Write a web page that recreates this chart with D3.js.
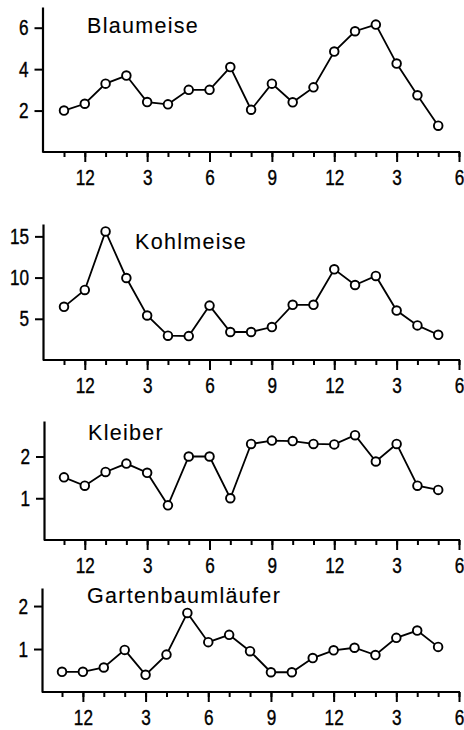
<!DOCTYPE html>
<html>
<head>
<meta charset="utf-8">
<script src="https://cdn.jsdelivr.net/npm/d3@7/dist/d3.min.js"></script>
<style>
  html, body { margin: 0; padding: 0; background: #fff; }
  svg { display: block; }
  .tick text { font-family: "Liberation Sans", "DejaVu Sans", sans-serif; font-size: 22px; fill: #000; stroke: #000; stroke-width: 0.4px; }
  .title { font-family: "Liberation Sans", "DejaVu Sans", sans-serif; font-size: 21.5px; letter-spacing: 1.3px; fill: #000; stroke: #000; stroke-width: 0.1px; }
</style>
</head>
<body>
<script>
// Months from November to May of the year after next (19 sampling points)
const months = [11, 12, 1, 2, 3, 4, 5, 6, 7, 8, 9, 10, 11, 12, 1, 2, 3, 4, 5];
// x tick labels (every third month), positions are month indices
const xTickIndex = [1, 4, 7, 10, 13, 16, 19];
const xTickLabels = ["12", "3", "6", "9", "12", "3", "6"];

const species = ["Blaumeise", "Kohlmeise", "Kleiber", "Gartenbaumläufer"];

const blaumeise = [2.0, 2.33, 3.3, 3.69, 2.41, 2.3, 3.0, 3.0, 4.1, 2.04, 3.3, 2.4, 3.12, 4.85, 5.83, 6.15, 4.27, 2.74, 1.27];
const kohlmeise = [6.45, 8.5, 15.6, 9.95, 5.4, 2.95, 2.9, 6.6, 3.4, 3.4, 4.0, 6.7, 6.7, 11.0, 9.1, 10.2, 6.0, 4.2, 3.06];
const kleiber = [1.5, 1.3, 1.63, 1.83, 1.61, 0.83, 2.0, 2.0, 1.0, 2.3, 2.38, 2.37, 2.3, 2.29, 2.51, 1.88, 2.3, 1.3, 1.2];
const gartenbaumlaeufer = [0.47, 0.47, 0.57, 0.98, 0.4, 0.87, 1.84, 1.16, 1.33, 0.95, 0.46, 0.46, 0.79, 0.97, 1.03, 0.86, 1.26, 1.43, 1.05];

const yTicksBlau = [2, 4, 6];
const yTicksKohl = [5, 10, 15];
const yTicksKleiber = [1, 2];
const yTicksGarten = [1, 2];

const yMaxBlau = 7.0;
const yMaxKohl = 16.5;
const yMaxKleiber = 2.85;
const yMaxGarten = 2.42;

// layout (pixels)
const W = 464, H = 730;
const layout = [
  { axisX: 42.5, x0: 64, x19: 459, top: 7, bottom: 152, titleX: 87, titleY: 33 },
  { axisX: 43, x0: 64, x19: 459, top: 224, bottom: 360, titleX: 135, titleY: 249 },
  { axisX: 44, x0: 64, x19: 459, top: 421, bottom: 540, titleX: 88, titleY: 440 },
  { axisX: 42, x0: 62, x19: 459, top: 588, bottom: 692, titleX: 87, titleY: 603 }
];
const seriesList = [blaumeise, kohlmeise, kleiber, gartenbaumlaeufer];
const yTicksList = [yTicksBlau, yTicksKohl, yTicksKleiber, yTicksGarten];
const yMaxList = [yMaxBlau, yMaxKohl, yMaxKleiber, yMaxGarten];

const svg = d3.select("body").append("svg").attr("width", W).attr("height", H);
const squeeze = 0.78;

seriesList.forEach((values, p) => {
  const L = layout[p];
  const x = d3.scaleLinear().domain([0, 19]).range([L.x0, L.x19]);
  const y = d3.scaleLinear().domain([0, yMaxList[p]]).range([L.bottom, L.top]);
  const g = svg.append("g");

  // minor x ticks (every month)
  const minor = g.append("g").attr("transform", `translate(0,${L.bottom})`)
    .call(d3.axisBottom(x).tickValues(d3.range(0, 20)).tickSize(5).tickFormat(""));
  minor.select(".domain").remove();
  minor.selectAll("line").attr("stroke", "#000").attr("stroke-width", 2);

  // major x ticks with labels
  const major = g.append("g").attr("transform", `translate(0,${L.bottom})`)
    .call(d3.axisBottom(x).tickValues(xTickIndex).tickSize(10).tickPadding(7)
      .tickFormat((d, i) => xTickLabels[i]));
  major.select(".domain").remove();
  major.selectAll("line").attr("stroke", "#000").attr("stroke-width", 2);
  major.selectAll("text").attr("transform", `scale(${squeeze},1)`);

  // x axis baseline
  g.append("line")
    .attr("x1", L.axisX).attr("x2", x(19) + 1)
    .attr("y1", L.bottom).attr("y2", L.bottom)
    .attr("stroke", "#000").attr("stroke-width", 2.2);

  // y axis
  const yAxis = g.append("g").attr("transform", `translate(${L.axisX},0)`)
    .call(d3.axisLeft(y).tickValues(yTicksList[p]).tickSize(8).tickPadding(6)
      .tickSizeOuter(0).tickFormat(d3.format("d")));
  yAxis.select(".domain").attr("stroke", "#000").attr("stroke-width", 2.2);
  yAxis.selectAll("line").attr("stroke", "#000").attr("stroke-width", 2);
  yAxis.selectAll("text").attr("x", 0).attr("transform", `translate(-14,0) scale(${squeeze},1)`);

  // title
  g.append("text").attr("class", "title")
    .attr("x", L.titleX).attr("y", L.titleY)
    .text(species[p]);

  // line
  const line = d3.line().x((d, i) => x(i)).y(d => y(d));
  g.append("path").datum(values)
    .attr("d", line).attr("fill", "none")
    .attr("stroke", "#000").attr("stroke-width", 1.8);

  // points
  g.selectAll("circle.pt").data(values).join("circle")
    .attr("class", "pt")
    .attr("cx", (d, i) => x(i)).attr("cy", d => y(d))
    .attr("r", 4.3)
    .attr("fill", "#fff").attr("stroke", "#000").attr("stroke-width", 1.9);
});
</script>
</body>
</html>
